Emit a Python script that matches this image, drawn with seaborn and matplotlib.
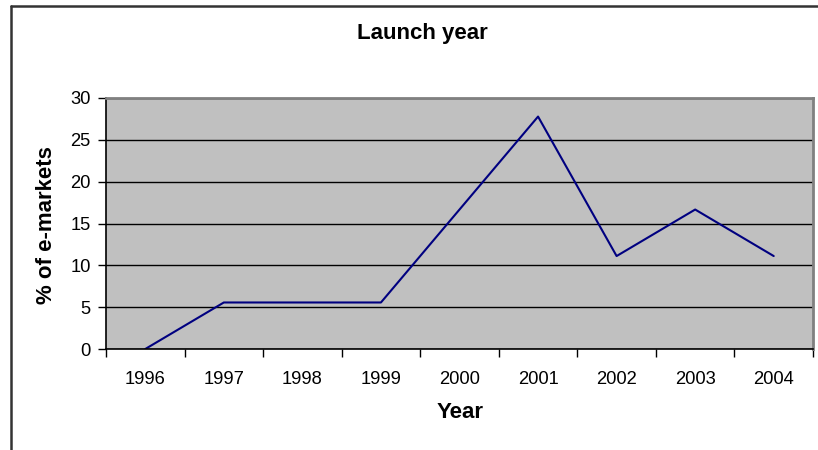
import matplotlib
matplotlib.use("Agg")
import matplotlib.pyplot as plt
from matplotlib.lines import Line2D
from matplotlib.ticker import FixedLocator
import seaborn as sns
import pandas as pd

# Share of e-markets by launch year
years = ["1996", "1997", "1998", "1999", "2000", "2001", "2002", "2003", "2004"]
share = [0.0, 5.56, 5.56, 5.56, 16.67, 27.78, 11.11, 16.67, 11.11]
y_ticks = [0, 5, 10, 15, 20, 25, 30]

df = pd.DataFrame({"Year": years, "Share": share})

sns.set_theme(style="white")
plt.rcParams["font.family"] = ["Liberation Sans", "DejaVu Sans"]

W, H = 818, 450
fig = plt.figure(figsize=(W / 100, H / 100), dpi=100)
left, right, top, bottom = 106, 813, 98, 349
ax = fig.add_axes([left / W, 1 - bottom / H, (right - left) / W, (bottom - top) / H])
ax.set_facecolor("#C0C0C0")

sns.lineplot(data=df, x="Year", y="Share", ax=ax, color="#000080",
             linewidth=1.5, sort=False)

ax.set_xlim(-0.5, len(years) - 0.5)
ax.set_ylim(0, 30)
ax.set_yticks(y_ticks)
ax.set_yticklabels([str(t) for t in y_ticks])

# Horizontal gridlines in black
ax.yaxis.grid(True, color="black", linewidth=1.0)
ax.xaxis.grid(False)
ax.set_axisbelow(True)

# Category labels centred, tick marks between categories
ax.set_xticks(range(len(years)))
ax.set_xticklabels(years)
ax.xaxis.set_minor_locator(FixedLocator([i - 0.5 for i in range(len(years) + 1)]))
ax.tick_params(axis="x", which="major", length=0, pad=16, labelsize=13.2, labelcolor="black")
ax.tick_params(axis="x", which="minor", length=6, width=1, color="black", direction="out", bottom=True)
ax.tick_params(axis="y", which="major", length=6, width=1, color="black", direction="out",
               left=True, pad=5, labelsize=13.2, labelcolor="black")

for side in ["left", "bottom"]:
    ax.spines[side].set_color("black")
    ax.spines[side].set_linewidth(1.2)
for side in ["top", "right"]:
    ax.spines[side].set_visible(True)
    ax.spines[side].set_color("#808080")
    ax.spines[side].set_linewidth(2)

ax.set_xlabel("Year", fontsize=16, fontweight="bold", color="black")
ax.set_ylabel("% of e-markets", fontsize=16, fontweight="bold", color="black")
ax.xaxis.set_label_coords((460 - left) / (right - left), (bottom - 413) / (bottom - top))
ax.xaxis.label.set_va("center")
ax.yaxis.set_label_coords((47 - left) / (right - left), (bottom - 225) / (bottom - top))
ax.yaxis.label.set_va("center")

fig.text(422 / W, 1 - 33 / H, "Launch year", ha="center", va="center",
         fontsize=16, fontweight="bold", color="black")

# Chart-area frame
fig.add_artist(Line2D([11 / W, 1.0], [1 - 5.5 / H, 1 - 5.5 / H],
                      transform=fig.transFigure, color="#333333", linewidth=1.8))
fig.add_artist(Line2D([11 / W, 11 / W], [0.0, 1 - 5.5 / H],
                      transform=fig.transFigure, color="#333333", linewidth=1.8))

fig.savefig("out.png", dpi=100, facecolor="white")
